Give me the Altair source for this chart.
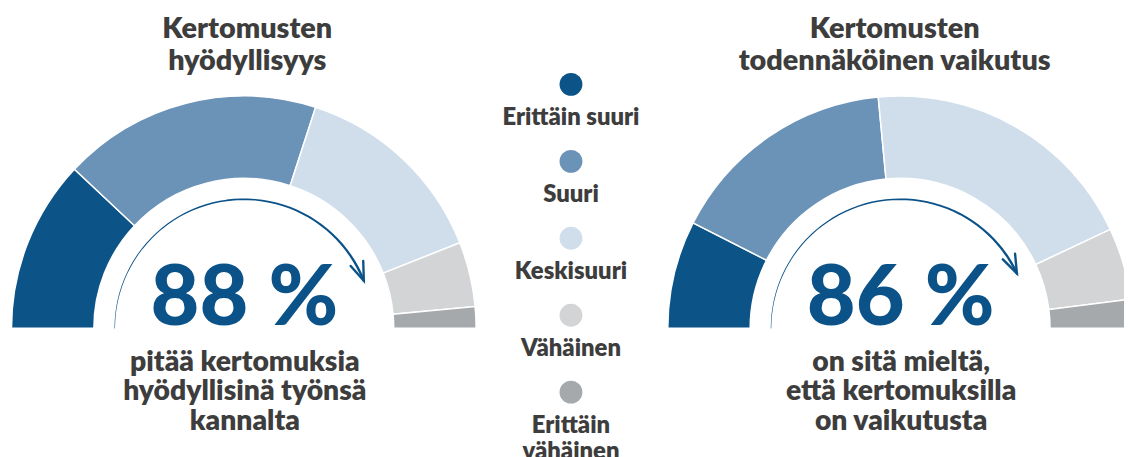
import math
import altair as alt
import pandas as pd

# ---------------- data ----------------
categories = ["Erittäin suuri", "Suuri", "Keskisuuri", "Vähäinen", "Erittäin vähäinen"]
legend_labels = ["Erittäin suuri", "Suuri", "Keskisuuri", "Vähäinen", "Erittäin\nvähäinen"]
colors = ["#0c5488", "#6b93b7", "#cfdeea", "#d3d4d6", "#a6a9ac"]
left_values = [24, 36, 28, 9, 3]
right_values = [15, 32, 39, 10, 4]
left_title = "Kertomusten\nhyödyllisyys"
right_title = "Kertomusten\ntodennäköinen vaikutus"
left_caption = "pitää kertomuksia\nhyödyllisinä työnsä\nkannalta"
right_caption = "on sitä mieltä,\nettä kertomuksilla\non vaikutusta"

# ---------------- layout / style ----------------
W, H = 1124, 449
L_CX, R_CX, CY = 237.5, 898.5, 321
R_OUT, R_IN = 234, 151
ARROW_R = 130
BLUE = "#0b5288"
TEXT = "#3d3d3d"
FONT = "Lato"
WEIGHT = 800


def gauge(values, cx, cy, title, caption, tx):
    df = pd.DataFrame({"cat": categories, "val": values, "idx": list(range(len(categories)))})
    arcs = alt.Chart(df).mark_arc(
        radius=R_OUT, radius2=R_IN, stroke="white", strokeWidth=1.5
    ).encode(
        theta=alt.Theta("val:Q", stack=True,
                        scale=alt.Scale(domain=[0, 100], range=[1.5 * math.pi, 2.5 * math.pi])),
        color=alt.Color("cat:N", scale=alt.Scale(domain=categories, range=colors), legend=None),
        order=alt.Order("idx:Q"),
        x=alt.value(cx),
        y=alt.value(cy),
    )

    total = sum(values[:3])

    trail = alt.Chart(alt.sequence(0, 1.0001, 0.02, as_="t")).transform_calculate(
        a=f"datum.t * {total} * PI / 100",
        px=f"{cx} - {ARROW_R} * cos(datum.a)",
        py=f"{cy} - {ARROW_R} * sin(datum.a)",
        w="0.5 + 2.0 * datum.t",
    ).mark_trail(color=BLUE).encode(
        x=alt.X("px:Q", scale=None, axis=None),
        y=alt.Y("py:Q", scale=None, axis=None),
        size=alt.Size("w:Q", scale=None, legend=None),
        order=alt.Order("t:Q"),
    )

    head = alt.Chart(pd.DataFrame({"total": [total]})).transform_calculate(
        a="datum.total * PI / 100",
        px=f"{cx} - {ARROW_R} * cos(datum.a)",
        py=f"{cy} - {ARROW_R} * sin(datum.a)",
        ang="datum.total * 1.8 - 90",
    ).mark_point(
        shape="M -0.94 -0.34 L 0 0 L -0.94 0.34", filled=False, strokeWidth=2.4,
        size=1600, color=BLUE, opacity=1, strokeCap="round", strokeJoin="miter"
    ).encode(
        x=alt.X("px:Q", scale=None, axis=None),
        y=alt.Y("py:Q", scale=None, axis=None),
        angle=alt.Angle("ang:Q", scale=None),
    )

    big = alt.Chart(pd.DataFrame({"txt": [f"{total} %"]})).mark_text(
        font=FONT, fontWeight=900, fontSize=85, color=BLUE, align="center", baseline="alphabetic"
    ).encode(text="txt:N", x=alt.value(cx + 0.5), y=alt.value(318))

    ttl = alt.Chart(pd.DataFrame({"txt": [title]})).mark_text(
        font=FONT, fontWeight=WEIGHT, fontSize=29, color=TEXT, align="center",
        baseline="alphabetic", lineBreak="\n", lineHeight=32
    ).encode(text="txt:N", x=alt.value(tx), y=alt.value(29))

    cap = alt.Chart(pd.DataFrame({"txt": [caption]})).mark_text(
        font=FONT, fontWeight=WEIGHT, fontSize=28.5, color=TEXT, align="center",
        baseline="alphabetic", lineBreak="\n", lineHeight=29.5
    ).encode(text="txt:N", x=alt.value(cx + 1), y=alt.value(364))

    return [arcs, trail, head, big, ttl, cap]


left_layers = gauge(left_values, L_CX, CY, left_title, left_caption, 241)
right_layers = gauge(right_values, R_CX, CY, right_title, right_caption, 893)

leg_df = pd.DataFrame({"cat": categories, "label": legend_labels, "idx": list(range(len(categories)))})
leg_base = alt.Chart(leg_df).transform_calculate(
    ly="75.3 + datum.idx * 77.5",
    ty="75.3 + datum.idx * 77.5 + 41",
)
leg_dots = leg_base.mark_circle(size=530, opacity=1).encode(
    x=alt.value(567),
    y=alt.Y("ly:Q", scale=None, axis=None),
    color=alt.Color("cat:N", scale=alt.Scale(domain=categories, range=colors), legend=None),
)
leg_text = leg_base.mark_text(
    font=FONT, fontWeight=WEIGHT, fontSize=24, color=TEXT, align="center",
    baseline="alphabetic", lineBreak="\n", lineHeight=26
).encode(
    x=alt.value(567),
    y=alt.Y("ty:Q", scale=None, axis=None),
    text="label:N",
)

chart = alt.layer(*left_layers, *right_layers, leg_dots, leg_text).properties(
    width=W, height=H, padding=0, autosize="none"
).configure_view(stroke=None)

chart.save("out.html", embed_options={"renderer": "svg", "actions": False})
